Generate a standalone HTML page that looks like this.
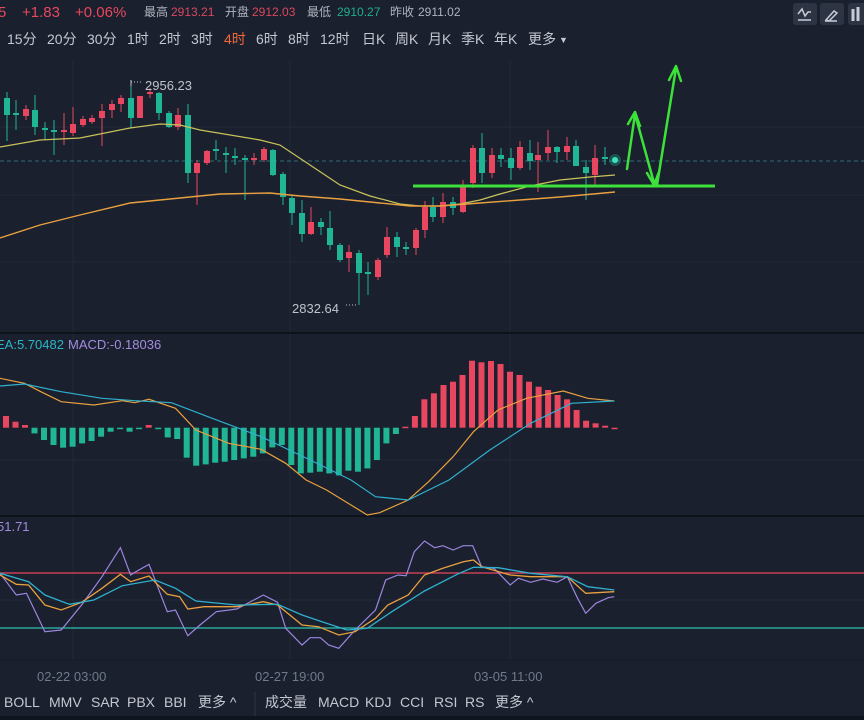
<!DOCTYPE html>
<html><head><meta charset="utf-8"><style>
body{margin:0;background:#1a202d;width:864px;height:720px;overflow:hidden;font-family:"Liberation Sans","Noto Sans CJK SC",sans-serif;}
svg{position:absolute;left:0;top:0}
</style></head><body>
<svg id="s" width="864" height="720" xmlns="http://www.w3.org/2000/svg">
<rect width="864" height="720" fill="#1a202d"/>
<rect y="716" width="864" height="4" fill="#10141c"/>
<g font-family="Liberation Sans, Noto Sans CJK SC, sans-serif">
<text x="-2" y="17" font-size="15" fill="#e8475f">5</text>
<text x="22" y="17" font-size="15" fill="#e8475f">+1.83</text>
<text x="75" y="17" font-size="15" fill="#e8475f">+0.06%</text>
<text x="144" y="16" font-size="12" fill="#aeb3bf">最高</text>
<text x="171" y="16" font-size="12" fill="#d9485e">2913.21</text>
<text x="225" y="16" font-size="12" fill="#aeb3bf">开盘</text>
<text x="252" y="16" font-size="12" fill="#d9485e">2912.03</text>
<text x="307" y="16" font-size="12" fill="#aeb3bf">最低</text>
<text x="337" y="16" font-size="12" fill="#1fae8e">2910.27</text>
<text x="390" y="16" font-size="12" fill="#aeb3bf">昨收</text>
<text x="418" y="16" font-size="12" fill="#aeb3bf">2911.02</text>
<g font-size="14" fill="#c4c8d2">
<text x="7" y="44">15分</text><text x="47" y="44">20分</text><text x="87" y="44">30分</text>
<text x="127" y="44">1时</text><text x="159" y="44">2时</text><text x="191" y="44">3时</text>
<text x="224" y="44" fill="#f0683a">4时</text><text x="256" y="44">6时</text><text x="288" y="44">8时</text>
<text x="320" y="44">12时</text><text x="362" y="44">日K</text><text x="395" y="44">周K</text>
<text x="428" y="44">月K</text><text x="461" y="44">季K</text><text x="494" y="44">年K</text>
<text x="528" y="44">更多</text><text x="559" y="43" font-size="9">▼</text>
</g>
<rect x="793" y="3" width="24" height="22" rx="3" fill="#2d3444"/>
<rect x="820" y="3" width="24" height="22" rx="3" fill="#2d3444"/>
<rect x="848" y="3" width="24" height="22" rx="3" fill="#2d3444"/>
<path d="M798 14 l4 -5 l3 7 l3 -4 l3 0 M798 20 h13" stroke="#c8ccd6" stroke-width="1.5" fill="none"/>
<path d="M826 20 l8 -9 l3 2 l-8 8 z M825 21 h12" stroke="#c8ccd6" stroke-width="1.5" fill="none"/>
<path d="M853 9 v12 M858 7 v14" stroke="#c8ccd6" stroke-width="3"/>
</g>
<g id="g"></g>
<g font-family="Liberation Sans, Noto Sans CJK SC, sans-serif">
<text x="145" y="90" font-size="13" fill="#c0c4cc">2956.23</text>
<text x="292" y="313" font-size="13" fill="#c0c4cc">2832.64</text>
<text x="-4" y="349" font-size="13" fill="#2cb6c8">EA:5.70482</text>
<text x="68" y="349" font-size="13" fill="#a38ce0">MACD:-0.18036</text>
<text x="-3" y="531" font-size="13" fill="#a38ce0">51.71</text>
<g font-size="13" fill="#707a8c"><text x="37" y="681">02-22 03:00</text><text x="255" y="681">02-27 19:00</text><text x="474" y="681">03-05 11:00</text></g>
<g font-size="14" fill="#c4c8d2">
<text x="4" y="707">BOLL</text><text x="49" y="707">MMV</text><text x="91" y="707">SAR</text><text x="127" y="707">PBX</text><text x="164" y="707">BBI</text><text x="198" y="707">更多 ^</text>
<text x="265" y="707">成交量</text><text x="318" y="707">MACD</text><text x="365" y="707">KDJ</text><text x="400" y="707">CCI</text><text x="434" y="707">RSI</text><text x="465" y="707">RS</text><text x="495" y="707">更多 ^</text>
</g>
</g>
</svg>
<script>
var g=document.getElementById('g'),h='';
function L(x1,y1,x2,y2,c,w,extra){h+='<line x1="'+x1+'" y1="'+y1+'" x2="'+x2+'" y2="'+y2+'" stroke="'+c+'" stroke-width="'+(w||1)+'" '+(extra||'')+'/>';}
function P(pts,c,w,fx,fy,ox,oy){var d=pts.map(function(p,i){return (i?'L':'M')+(p[0]/fx+ox).toFixed(1)+' '+(p[1]/fy+oy).toFixed(1)}).join(' ');h+='<path d="'+d+'" stroke="'+c+'" stroke-width="'+(w||1.2)+'" fill="none"/>';}
[127,195,262].forEach(function(y){L(0,y,864,y,'#232a38')});
[460,600].forEach(function(y){L(0,y,864,y,'#20273a')});
[73,290,510].forEach(function(x){L(x,60,x,660,'#232a38')});
L(0,333,864,333,'#0e121a',2);L(0,516,864,516,'#0e121a',2);L(0,660,864,660,'#151a24',1);
L(255,692,255,716,'#2d3444');
L(0,161,864,161,'#2f6c78',1,'stroke-dasharray="4,3"');
var R='#e8475f',G='#1fb595';
var C=[[7,98,115,92,141,G],[16,113,115,100,130,G],[26,109,116,105,120,R],[35,110,127,95,135,G],[45,128,130,122,140,G],[54,130,132,120,155,G],[64,130,132,113,145,R],[73,124,133,107,136,R],[83,119,125,116,127,R],[92,118,122,115,124,R],[102,111,118,104,146,R],[112,104,110,100,118,R],[121,98,104,95,112,R],[131,98,118,80,128,G],[140,96,118,96,118,R],[150,92,94,88,98,R],[159,93,113,92,120,G],[169,113,127,111,128,G],[178,115,127,108,130,R],[188,115,173,104,183,G],[197,163,173,160,205,R],[207,151,163,150,165,R],[216,149,151,140,160,G],[226,153,155,147,173,G],[235,156,158,148,165,G],[245,158,160,155,200,G],[254,158,160,153,165,R],[264,149,160,147,162,R],[273,150,175,149,176,G],[283,174,197,172,205,G],[292,198,213,195,225,G],[302,213,234,200,242,G],[311,222,234,207,235,R],[321,222,227,218,235,G],[330,228,245,211,250,G],[340,245,260,243,262,G],[349,252,258,245,272,R],[359,253,273,250,305,G],[368,272,274,262,295,G],[378,260,277,258,280,R],[387,237,255,227,258,R],[397,237,247,232,257,G],[406,247,249,242,255,G],[416,230,248,228,255,R],[425,207,230,201,238,R],[433,207,217,197,222,G],[443,202,217,193,223,R],[453,202,208,197,215,G],[463,185,212,180,213,R],[473,148,183,145,188,R],[482,148,173,133,183,G],[492,155,173,148,178,R],[501,155,159,148,167,G],[511,158,168,148,180,G],[520,147,168,141,170,R],[530,153,161,140,170,G],[538,155,160,142,192,R],[548,147,153,130,160,R],[557,147,152,146,163,G],[567,146,152,137,160,R],[576,146,166,140,166,G],[586,167,173,160,200,G],[595,158,175,145,185,R],[605,157,159,147,165,G]];
C.forEach(function(c){L(c[0],c[3],c[0],c[4],c[5],1);h+='<rect x="'+(c[0]-3)+'" y="'+c[1]+'" width="6" height="'+Math.max(1.5,c[2]-c[1])+'" fill="'+c[5]+'"/>';});
h+='<circle cx="615" cy="160" r="6" fill="#1fb595" opacity="0.35"/><circle cx="615" cy="160" r="3" fill="#3fe0c0"/>';
L(131,82,143,82,'#c0c4cc',1,'stroke-dasharray="1,2"');L(131,80,131,86,'#c0c4cc');
L(346,305,358,305,'#c0c4cc',1,'stroke-dasharray="1,2"');
P([[0,147],[40,140],[80,138],[130,128],[160,124],[180,125],[200,130],[260,140],[280,145],[310,165],[340,185],[370,196],[400,204],[420,206],[440,206],[460,204],[480,200],[500,194],[530,186],[560,180],[590,177],[615,175]],'#c9c25a',1.2,1,1,0,0);
P([[0,238],[40,225],[80,215],[130,203],[180,198],[220,194],[270,193],[300,196],[340,199],[380,203],[410,206],[440,206],[480,203],[520,200],[560,197],[615,192]],'#e9a040',1.4,1,1,0,0);
L(413,186,715,186,'#3ce13a',3);
var A='#3ce13a';
h+='<path d="M627 169 L635 114 L654 183 M628 124 L635 112 L640 126 M647 173 L654 185 L659 172 M657 185 L676 68 M669 80 L676 66 L681 81" stroke="'+A+'" stroke-width="2.5" fill="none" stroke-linejoin="round" stroke-linecap="round"/>';
var bt=[258,275,285,310,330,345,353,350,340,333,320,305,297,305,296,285,297,322,327,383,407,403,398,395,390,385,380,370,352,345,405,430,428,425,430,436,422,425,415,390,340,312,290,258,208,190,165,155,135,92,97,93,102,125,135,155,170,180,195,208,240,272,280,287,294];
bt.forEach(function(t,i){var x=6+i*9.51,y=t/3+330,z=293/3+330;var red=(i<3||i==15||i>=42);var top=Math.min(y,z),hh=Math.max(1.5,Math.abs(y-z));h+='<rect x="'+(x-3).toFixed(1)+'" y="'+top.toFixed(1)+'" width="6" height="'+hh.toFixed(1)+'" fill="'+(red?R:G)+'"/>';});
P([[0,145],[60,160],[100,185],[150,215],[230,225],[300,212],[330,218],[365,208],[430,235],[480,300],[560,340],[640,358],[700,400],[750,450],[800,480],[860,525],[900,555],[930,548],[1000,510],[1050,455],[1110,380],[1160,305],[1220,240],[1290,205],[1380,183],[1440,205],[1505,213]],'#e9a040',1.2,2.45,3,0,330);
P([[0,168],[60,162],[150,185],[250,205],[330,212],[420,218],[520,265],[640,320],[760,390],[860,450],[920,500],[1000,510],[1100,450],[1200,360],[1300,280],[1400,220],[1505,213]],'#2fb0d0',1.2,2.45,3,0,330);
L(0,573,864,573,'#e8475f',1.2);L(0,628,864,628,'#2fc0b0',1.2);
P([[0,175],[40,240],[65,235],[110,350],[150,345],[200,270],[250,185],[295,98],[320,180],[340,165],[365,148],[410,290],[430,285],[460,362],[490,330],[530,290],[580,282],[645,240],[680,262],[700,340],[740,390],[760,368],[785,368],[805,390],[830,400],[870,345],[920,285],[945,195],[975,180],[995,182],[1015,110],[1040,78],[1065,98],[1085,92],[1110,105],[1135,92],[1158,92],[1180,155],[1210,160],[1250,210],[1270,190],[1300,202],[1330,192],[1365,202],[1390,185],[1415,250],[1435,295],[1460,265],[1490,248],[1505,245]],'#9b86e0',1.2,2.45,3,0,515);
P([[0,180],[40,208],[70,210],[110,270],[150,285],[200,262],[250,220],[295,178],[320,200],[365,183],[410,238],[440,245],[460,282],[500,275],[580,275],[645,260],[680,270],[740,330],[780,335],[830,360],[870,350],[920,310],[950,270],[1000,240],[1040,180],[1085,160],[1135,140],[1160,135],[1180,155],[1250,180],[1300,185],[1390,185],[1435,235],[1505,230]],'#e9a040',1.3,2.45,3,0,515);
P([[0,175],[70,200],[110,240],[170,268],[230,255],[300,212],[380,195],[430,220],[480,258],[580,270],[680,268],[740,300],[800,325],[850,345],[900,340],[960,290],[1040,228],[1120,178],[1160,157],[1220,158],[1300,175],[1390,185],[1440,215],[1505,225]],'#2fb0d0',1.3,2.45,3,0,515);
g.innerHTML=h;
</script>
</body></html>
